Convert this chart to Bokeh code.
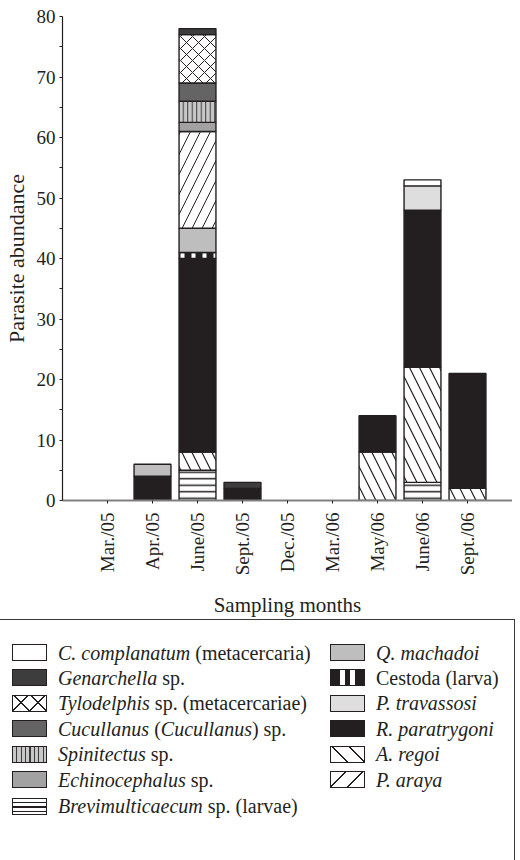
import math
import numpy as np
from bokeh.plotting import figure
from bokeh.models import ColumnDataSource, FixedTicker, Range1d, Div
from bokeh.layouts import column
from bokeh.embed import file_html
from bokeh.resources import INLINE

# ---------------- data ----------------
months = ["Mar./05", "Apr./05", "June/05", "Sept./05", "Dec./05",
          "Mar./06", "May/06", "June/06", "Sept./06"]

brevimulticaecum = [0, 0, 5, 0, 0, 0, 0, 3, 0]
a_regoi          = [0, 0, 3, 0, 0, 0, 8, 19, 2]
r_paratrygoni    = [0, 4, 32, 2, 0, 0, 6, 26, 19]
cestoda          = [0, 0, 1, 0, 0, 0, 0, 0, 0]
q_machadoi       = [0, 2, 4, 0, 0, 0, 0, 0, 0]
p_araya          = [0, 0, 16, 0, 0, 0, 0, 0, 0]
echinocephalus   = [0, 0, 1.5, 0, 0, 0, 0, 0, 0]
spinitectus      = [0, 0, 3.5, 0, 0, 0, 0, 0, 0]
cucullanus       = [0, 0, 3, 0, 0, 0, 0, 0, 0]
tylodelphis      = [0, 0, 8, 0, 0, 0, 0, 0, 0]
genarchella      = [0, 0, 1, 1, 0, 0, 0, 0, 0]
p_travassosi     = [0, 0, 0, 0, 0, 0, 0, 4, 0]
c_complanatum    = [0, 0, 0, 0, 0, 0, 0, 1, 0]

y_ticks = [0, 10, 20, 30, 40, 50, 60, 70, 80]
y_minor = [5, 15, 25, 35, 45, 55, 65, 75]

# legend labels: (text, italic) segments
labels = {
    "c_complanatum":    [("C. complanatum", True), (" (metacercaria)", False)],
    "genarchella":      [("Genarchella", True), (" sp.", False)],
    "tylodelphis":      [("Tylodelphis", True), (" sp. (metacercariae)", False)],
    "cucullanus":       [("Cucullanus", True), (" (", False), ("Cucullanus", True), (") sp.", False)],
    "spinitectus":      [("Spinitectus", True), (" sp.", False)],
    "echinocephalus":   [("Echinocephalus", True), (" sp.", False)],
    "brevimulticaecum": [("Brevimulticaecum", True), (" sp. (larvae)", False)],
    "q_machadoi":       [("Q. machadoi", True)],
    "cestoda":          [("Cestoda (larva)", False)],
    "p_travassosi":     [("P. travassosi", True)],
    "r_paratrygoni":    [("R. paratrygoni", True)],
    "a_regoi":          [("A. regoi", True)],
    "p_araya":          [("P. araya", True)],
}

series = {
    "brevimulticaecum": brevimulticaecum, "a_regoi": a_regoi,
    "r_paratrygoni": r_paratrygoni, "cestoda": cestoda,
    "q_machadoi": q_machadoi, "p_araya": p_araya,
    "echinocephalus": echinocephalus, "spinitectus": spinitectus,
    "cucullanus": cucullanus, "tylodelphis": tylodelphis,
    "genarchella": genarchella, "p_travassosi": p_travassosi,
    "c_complanatum": c_complanatum,
}
stack_order = ["brevimulticaecum", "a_regoi", "r_paratrygoni", "cestoda",
               "q_machadoi", "p_araya", "echinocephalus", "spinitectus",
               "cucullanus", "tylodelphis", "genarchella", "p_travassosi",
               "c_complanatum"]
legend_col1 = ["c_complanatum", "genarchella", "tylodelphis", "cucullanus",
               "spinitectus", "echinocephalus", "brevimulticaecum"]
legend_col2 = ["q_machadoi", "cestoda", "p_travassosi", "r_paratrygoni",
               "a_regoi", "p_araya"]

# ---------------- styles ----------------
INK = "#231f20"
def st(fill, pat=None, hc=INK, sc=12, hw=1.0):
    return dict(fill_color=fill, hatch_pattern=pat, hatch_color=hc,
                hatch_scale=sc, hatch_weight=hw)

styles = {
    "c_complanatum":    st("#ffffff"),
    "genarchella":      st("#3d3d3d"),
    "tylodelphis":      st("#ffffff", "x", INK, 12, 1.0),
    "cucullanus":       st("#646464"),
    "spinitectus":      st("#c8c8c8", "|", "#3a3a3a", 4.5, 1.0),
    "echinocephalus":   st("#a2a2a2"),
    "brevimulticaecum": st("#ffffff", "-", INK, 6.5, 1.5),
    "q_machadoi":       st("#bebebe"),
    "cestoda":          st(INK, "|", "#ffffff", 11, 4.0),
    "p_travassosi":     st("#dedede"),
    "r_paratrygoni":    st(INK),
    "a_regoi":          st("#ffffff", "\\", INK, 20, 1.2),
    "p_araya":          st("#ffffff", "/", INK, 20, 1.0),
}

# CSS versions of the same fills for the legend swatches
def stripes(angle, bg, fg, gap, line):
    return (f"background-color:{bg};background-image:repeating-linear-gradient("
            f"{angle}deg,{bg} 0px,{bg} {gap}px,{fg} {gap}px,{fg} {gap + line}px);")

css = {
    "c_complanatum":    "background:#ffffff;",
    "genarchella":      "background:#3d3d3d;",
    "tylodelphis":      (f"background-color:#fff;background-image:"
                         f"repeating-linear-gradient(45deg,transparent 0px,transparent 11px,{INK} 11px,{INK} 12.2px),"
                         f"repeating-linear-gradient(-45deg,transparent 0px,transparent 11px,{INK} 11px,{INK} 12.2px);"),
    "cucullanus":       "background:#646464;",
    "spinitectus":      stripes(90, "#c8c8c8", "#3a3a3a", 3.2, 1.2),
    "echinocephalus":   "background:#a2a2a2;",
    "brevimulticaecum": stripes(180, "#ffffff", INK, 3.0, 1.4),
    "q_machadoi":       "background:#bebebe;",
    "cestoda":          (f"background:linear-gradient(90deg,{INK} 0px,{INK} 9px,#fff 9px,#fff 14px,"
                         f"{INK} 14px,{INK} 19px,#fff 19px,#fff 24px,{INK} 24px);"),
    "p_travassosi":     "background:#dedede;",
    "r_paratrygoni":    f"background:{INK};",
    "a_regoi":          stripes(45, "#ffffff", INK, 11, 1.3),
    "p_araya":          stripes(-45, "#ffffff", INK, 11, 1.3),
}

SERIF = "Liberation Serif"

# ---------------- main chart ----------------
FL, FT, FW, FH = 59, 16, 453, 484
H1 = 620
p = figure(width=FL + FW, height=H1, x_range=Range1d(0, 10), y_range=Range1d(0, 80),
           output_backend="svg", toolbar_location=None,
           min_border_left=FL, min_border_right=0, min_border_top=FT,
           min_border_bottom=H1 - FT - FH)
p.outline_line_color = None
p.xgrid.grid_line_color = None
p.ygrid.grid_line_color = None

x = np.arange(1, len(months) + 1)
bottom = np.zeros(len(months))
for key in stack_order:
    vals = np.array(series[key], dtype=float)
    top = bottom + vals
    mask = vals > 0
    src = ColumnDataSource(dict(x=x[mask], bottom=bottom[mask], top=top[mask]))
    p.vbar(x="x", bottom="bottom", top="top", width=0.82, source=src,
           line_color=INK, line_width=1.4, **styles[key])
    bottom = top

yax = p.yaxis[0]
yax.ticker = FixedTicker(ticks=y_ticks, minor_ticks=y_minor)
yax.axis_line_color = INK
yax.axis_line_width = 1.2
yax.major_tick_in = 0
yax.major_tick_out = 3
yax.minor_tick_in = 0
yax.minor_tick_out = 3
yax.major_tick_line_color = INK
yax.minor_tick_line_color = INK
yax.major_label_text_font = SERIF
yax.major_label_text_font_size = "19px"
yax.major_label_text_color = INK
yax.major_label_standoff = 4
yax.axis_label = "Parasite abundance"
yax.axis_label_text_font = SERIF
yax.axis_label_text_font_style = "normal"
yax.axis_label_text_font_size = "22px"
yax.axis_label_text_color = INK
yax.axis_label_standoff = 5

xax = p.xaxis[0]
xax.ticker = FixedTicker(ticks=list(x))
xax.major_label_overrides = {int(i): m for i, m in zip(x, months)}
xax.major_label_orientation = math.pi / 2
xax.axis_line_color = "#808080"
xax.axis_line_width = 2
xax.major_tick_in = 0
xax.major_tick_out = 3
xax.major_tick_line_color = INK
xax.minor_tick_line_color = None
xax.major_label_text_font = SERIF
xax.major_label_text_font_size = "19px"
xax.major_label_text_color = INK
xax.major_label_standoff = 9
xax.axis_label = "Sampling months"
xax.axis_label_text_font = SERIF
xax.axis_label_text_font_style = "normal"
xax.axis_label_text_font_size = "21px"
xax.axis_label_text_color = INK
xax.axis_label_standoff = 15

# ---------------- legend (HTML) ----------------
H2 = 852 - H1
SHIFT_Y, SHIFT_X = -6, -7
row0, rstep = 33.5, 25.4          # relative to legend box top
cols = [(legend_col1, 14, 60), (legend_col2, 332, 378)]
parts = [f'<div style="position:relative;margin-top:{SHIFT_Y}px;margin-left:{SHIFT_X}px;'
         f'width:519px;height:{H2 - SHIFT_Y}px;'
         f'font-family:\'{SERIF}\';font-size:20px;color:{INK};">',
         f'<div style="position:absolute;left:0px;top:0px;width:517px;height:{H2 + 40}px;'
         f'box-sizing:border-box;border:1.5px solid #3a3a3a;"></div>']
for keys, sx, tx in cols:
    for i, key in enumerate(keys):
        cy = row0 + rstep * i + (1.5 if i == 6 else 0)
        parts.append(f'<div style="position:absolute;left:{sx}px;top:{cy - 8.5:.1f}px;'
                     f'width:35px;height:17px;box-sizing:border-box;'
                     f'border:1.4px solid {INK};{css[key]}"></div>')
        html = "".join(f"<i>{s}</i>" if it else s for s, it in labels[key])
        parts.append(f'<div style="position:absolute;left:{tx}px;top:{cy - 12:.1f}px;'
                     f'line-height:24px;white-space:pre;">{html}</div>')
parts.append("</div>")
legend = Div(text="".join(parts), width=512, height=H2)

layout = column(p, legend, spacing=0)
open("out.html", "w").write(file_html(layout, INLINE))
